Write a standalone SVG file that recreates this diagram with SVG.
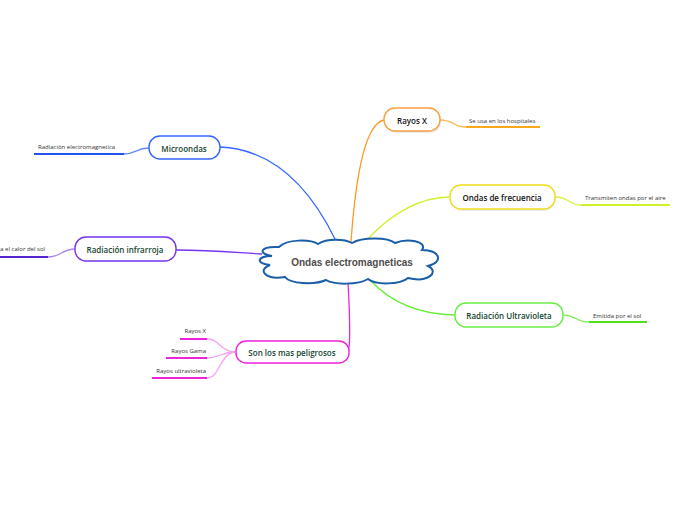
<svg xmlns="http://www.w3.org/2000/svg" width="696" height="520" viewBox="0 0 696 520">
<style>
.node{fill:#fff;stroke-width:1.4}
.shadow{fill:#000;opacity:0.08}
.t{font-family:"Open Sans","Noto Sans",sans-serif;font-size:8px;font-weight:600;text-anchor:middle;dominant-baseline:central}
.lbl{font-family:"Open Sans","Noto Sans",sans-serif;font-size:6px;fill:#333;dominant-baseline:alphabetic}
.c{fill:none;stroke-width:1.3}
.u{fill:none;stroke-width:2}
</style>
<rect width="696" height="520" fill="#fff"/>
<g id="connectors">
  <path class="c" stroke="#3366ff" d="M220,147 Q292,150 336,241"/>
  <path class="c" stroke="#ff9922" d="M351,242 C355,185 364,124 384,120"/>
  <path class="c" stroke="#ccf22a" d="M366,241 C392,212 422,197 450,197"/>
  <path class="c" stroke="#66ee33" d="M371,281 Q402,314 455,315"/>
  <path class="c" stroke="#7733ee" d="M176,250 C215,250 240,253 262,254"/>
  <path class="c" stroke="#ee22dd" d="M348,282 C350,318 351,344 348,352"/>
  <path class="c" stroke="#ffbb66" d="M440,120 C455,120 452,127 466,127"/>
  <path class="u" stroke="#f7a81b" d="M466,127 L540,127"/>
  <path class="c" stroke="#ddf055" d="M555,197 C570,197 568,205 581,205"/>
  <path class="u" stroke="#ccf22a" d="M581,205 L670,205"/>
  <path class="c" stroke="#88ee66" d="M563,315 C576,315 575,322 589,322"/>
  <path class="u" stroke="#55dd22" d="M589,322 L647,322"/>
  <path class="c" stroke="#6688ff" d="M149,148 C136,148 136,154 124,154"/>
  <path class="u" stroke="#2255ee" d="M124,154 L34,154"/>
  <path class="c" stroke="#aa88ee" d="M75,249 C62,249 61,257 48,257"/>
  <path class="u" stroke="#5522cc" d="M48,257 L0,257"/>
  <path class="c" stroke="#f6a0f0" d="M236,352 C220,352 220,339 207,339"/>
  <path class="c" stroke="#f6a0f0" d="M236,352 C220,352 220,358 207,358"/>
  <path class="c" stroke="#f6a0f0" d="M236,352 C220,352 220,378 207,378"/>
  <path class="u" stroke="#ee22dd" d="M207,339 L180,339"/>
  <path class="u" stroke="#ee22dd" d="M207,358 L166,358"/>
  <path class="u" stroke="#ee22dd" d="M207,378 L152,378"/>
</g>
<g id="center">
  <path fill="#fff" stroke="#1a5ea8" stroke-width="2" d="M272,256 C258,254 259,246 279,247 C287,239 310,239 318,244 C327,238 345,239 352,243 C362,237 388,237 395,243 C407,238 428,241 422,250 C440,250 444,262 428,266 C440,272 428,283 408,278 C400,285 375,285 368,279 C358,285 334,285 326,280 C315,285 290,284 285,277 C265,280 257,270 270,265 C256,264 256,256 272,256 Z"/>
  <text class="t" x="352" y="262" fill="#4d4d4d" style="font-family:'Liberation Sans',Arial,sans-serif;font-weight:bold;font-size:10px">Ondas electromagneticas</text>
</g>
<g id="rayosx">
  <rect class="shadow" x="385" y="110" width="56" height="23" rx="11"/>
  <rect class="node" stroke="#f7a040" x="384" y="108" width="56" height="23" rx="11"/>
  <text class="t" x="412" y="120" fill="#111">Rayos X</text>
  <text class="lbl" x="469" y="123">Se usa en los hospitales</text>
</g>
<g id="frecuencia">
  <rect class="shadow" x="451" y="187" width="104" height="24" rx="11"/>
  <rect class="node" stroke="#f0dc1c" x="450" y="185" width="105" height="24" rx="11"/>
  <text class="t" x="502" y="197" fill="#111">Ondas de frecuencia</text>
  <text class="lbl" x="585" y="200">Transmiten ondas por el aire</text>
</g>
<g id="ultravioleta">
  <rect class="node" stroke="#66ee44" x="455" y="303" width="108" height="24" rx="11"/>
  <text class="t" x="509" y="315" fill="#14452f">Radiación Ultravioleta</text>
  <text class="lbl" x="593" y="318">Emitida por el sol</text>
</g>
<g id="microondas">
  <rect class="node" stroke="#3366ff" x="149" y="136" width="71" height="23" rx="11"/>
  <text class="t" x="184" y="148" fill="#14452f">Microondas</text>
  <text class="lbl" x="38" y="149">Radiación electromagnetica</text>
</g>
<g id="infrarroja">
  <rect class="node" stroke="#7733ee" x="75" y="237" width="101" height="24" rx="11"/>
  <text class="t" x="125" y="249" fill="#14452f">Radiación infrarroja</text>
  <text class="lbl" x="45" y="251" text-anchor="end">Irradia el calor del sol</text>
</g>
<g id="peligrosos">
  <rect class="node" stroke="#ee22dd" x="236" y="341" width="113" height="22" rx="10"/>
  <text class="t" x="292" y="352" fill="#14452f">Son los mas peligrosos</text>
  <text class="lbl" x="206" y="333" text-anchor="end">Rayos X</text>
  <text class="lbl" x="206" y="353" text-anchor="end">Rayos Gama</text>
  <text class="lbl" x="206" y="373" text-anchor="end">Rayos ultravioleta</text>
</g>
</svg>
